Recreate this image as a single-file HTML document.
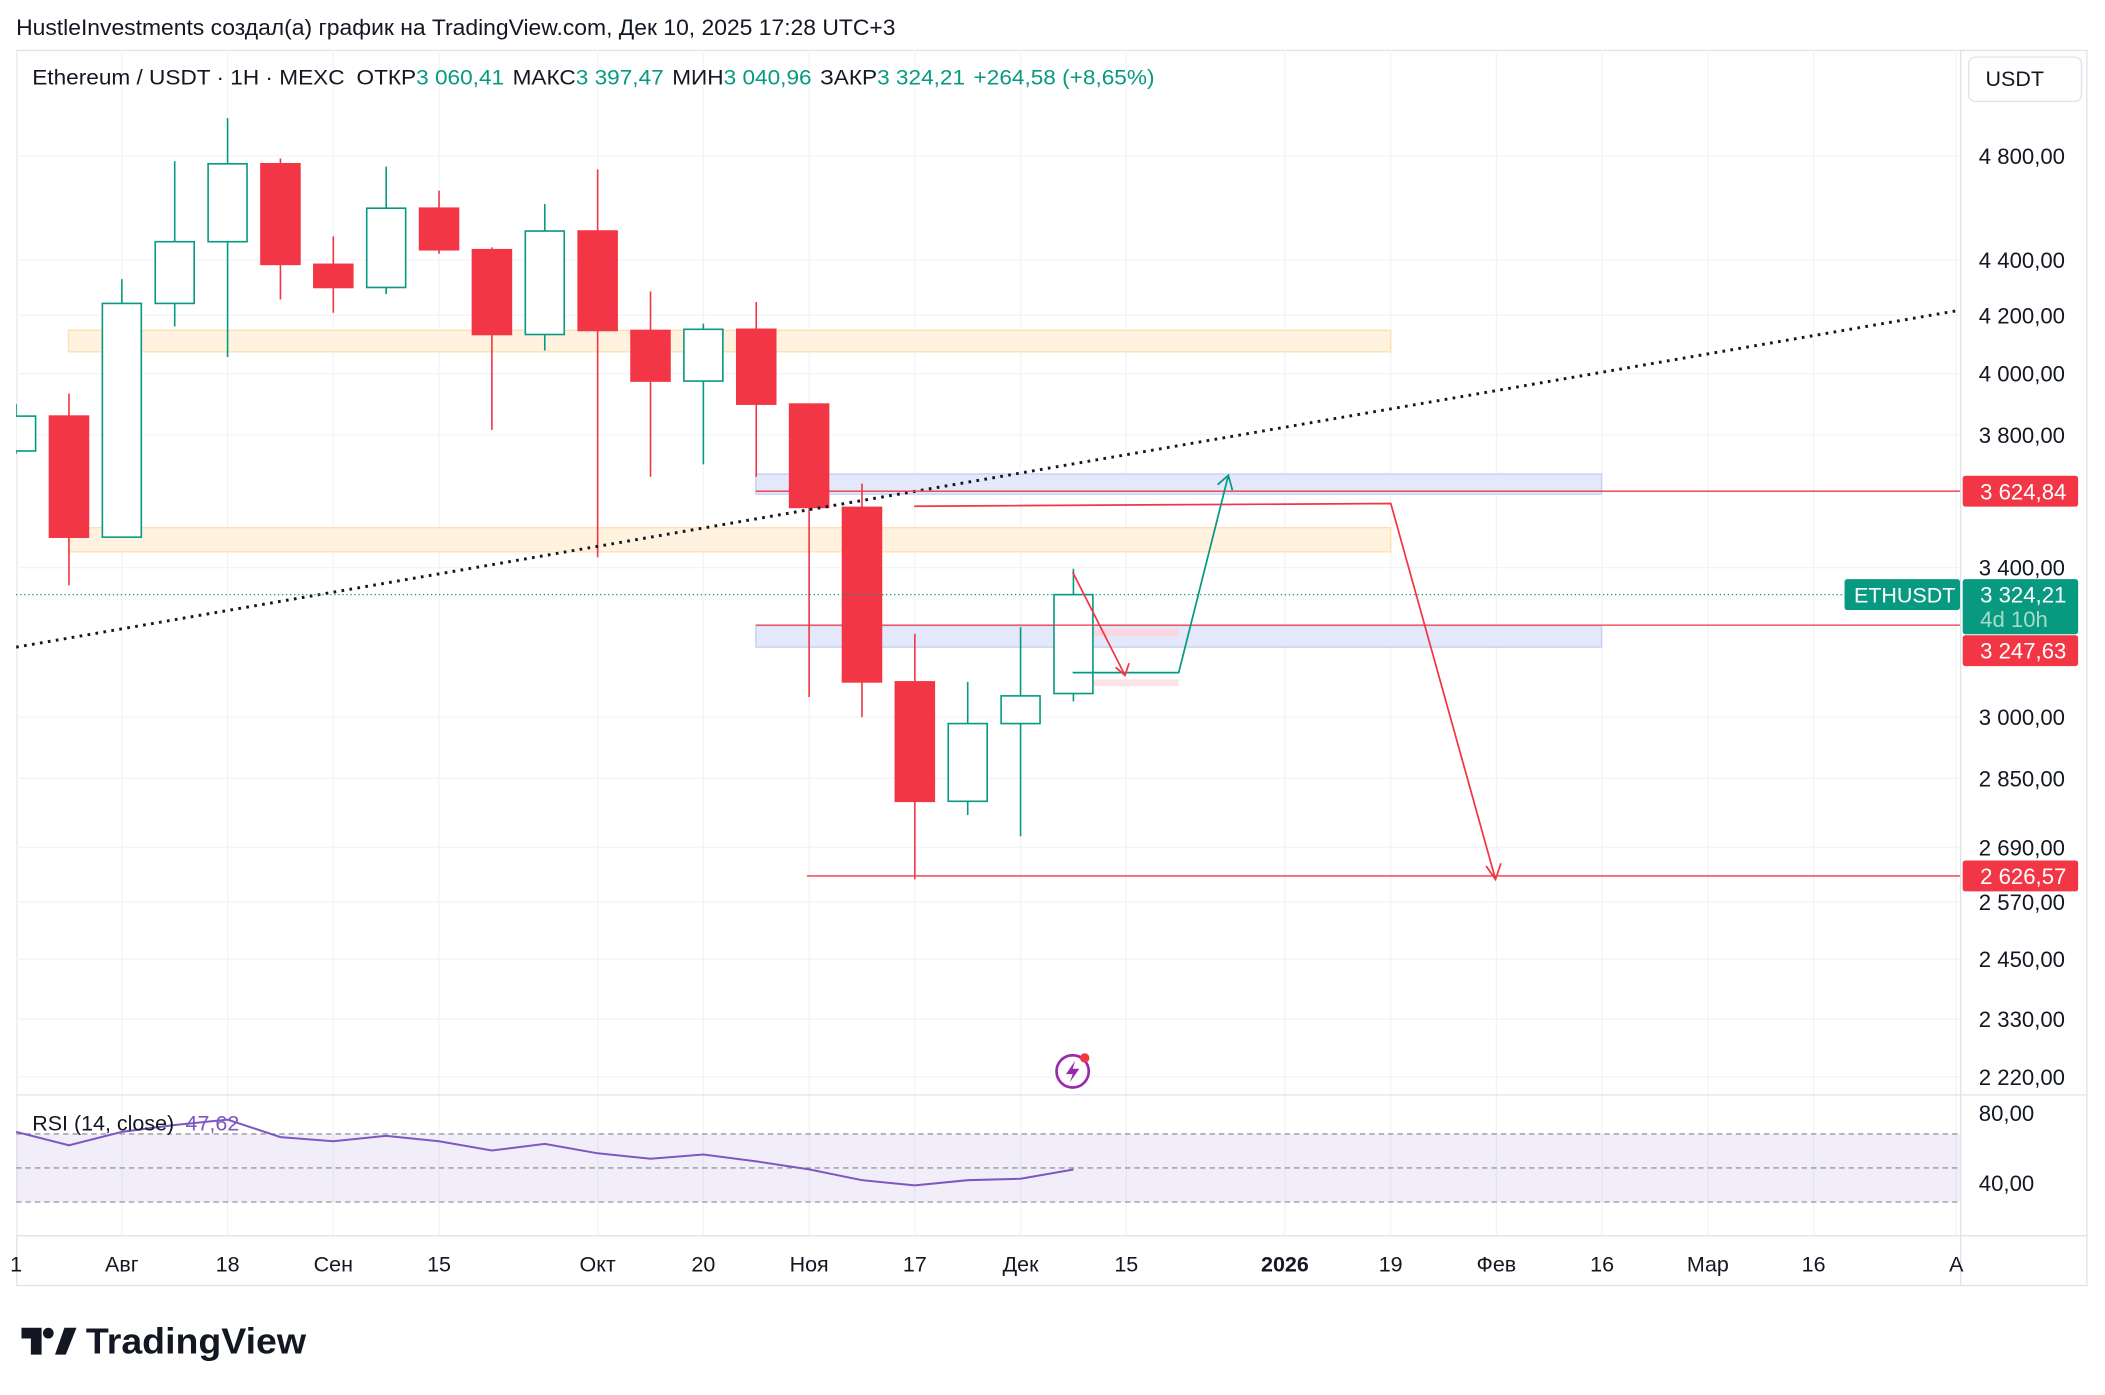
<!DOCTYPE html>
<html><head><meta charset="utf-8"><style>
html,body{margin:0;padding:0;background:#fff;width:2105px;height:1395px;overflow:hidden}
svg{display:block;font-family:"Liberation Sans","Noto Sans CJK SC",sans-serif}
</style></head><body>
<svg id="chart" width="2105" height="1395" viewBox="0 0 1568 1039">
<defs><clipPath id="plot"><rect x="12" y="37" width="1448" height="883"/></clipPath></defs>
<rect x="0" y="0" width="1568" height="1039" fill="#fff"/>
<text x="12" y="26" font-size="16.5" textLength="655" lengthAdjust="spacingAndGlyphs" fill="#131722">HustleInvestments создал(а) график на TradingView.com, Дек 10, 2025 17:28 UTC+3</text>
<rect x="12.5" y="37.5" width="1542" height="920" fill="none" stroke="#e0e3eb"/>
<g clip-path="url(#plot)">
<g id="grid"></g>
<g id="zones"></g>
<g id="candles"></g>
<g id="overlay"></g>
<g id="rsi"></g>
</g>
<line x1="12" y1="815.5" x2="1555" y2="815.5" stroke="#e0e3eb"/>
<line x1="1460.5" y1="37" x2="1460.5" y2="958" stroke="#e0e3eb"/>
<line x1="12" y1="920.5" x2="1555" y2="920.5" stroke="#e0e3eb"/>
<g id="yaxis"></g>
<g id="xaxis"></g>
<text x="24" y="63" font-size="16" textLength="836" lengthAdjust="spacingAndGlyphs" fill="#131722">Ethereum / USDT · 1Н · MEXC <tspan dx="4">ОТКР</tspan><tspan fill="#089981">3 060,41</tspan><tspan dx="6">МАКС</tspan><tspan fill="#089981">3 397,47</tspan><tspan dx="6">МИН</tspan><tspan fill="#089981">3 040,96</tspan><tspan dx="6">ЗАКР</tspan><tspan fill="#089981">3 324,21</tspan><tspan dx="6" fill="#089981">+264,58 (+8,65%)</tspan></text>
<rect x="1466.5" y="42.5" width="84" height="33" rx="5" fill="#fff" stroke="#e0e3eb"/>
<text x="1479" y="64" font-size="16" fill="#131722">USDT</text>
<text x="24" y="842" font-size="16" fill="#131722">RSI (14, close) <tspan fill="#7e57c2" dx="4">47,62</tspan></text>
<g><circle cx="799" cy="798" r="12" fill="none" stroke="#9c27b0" stroke-width="2"/><path d="M801 790 L794 800 L799 800 L797 806 L804 796 L799 796 Z" fill="#9c27b0"/><circle cx="808" cy="788" r="3.5" fill="#f23645"/></g>
<g><path d="M16 989 h15 v20 h-8 v-12 h-7 z" fill="#131722"/><circle cx="36" cy="993" r="4" fill="#131722"/><path d="M41 1009 L48 989 h9 l-8 20 z" fill="#131722"/><text x="64" y="1008" font-size="27" font-weight="bold" textLength="164" lengthAdjust="spacingAndGlyphs" fill="#131722">TradingView</text></g>
</svg>
<script>
const NS="http://www.w3.org/2000/svg";
const dates=["Jul 14","Jul 21","Jul 28","Aug 4","Aug 11","Aug 18","Aug 25","Sep 1","Sep 8","Sep 15","Sep 22","Sep 29","Oct 6","Oct 13","Oct 20","Oct 27","Nov 3","Nov 10","Nov 17","Nov 24","Dec 1"];
const opens=[3749,3860,3488,4242,4467,4768,4383,4299,4594,4437,4133,4507,4147,3975,4151,3899,3576,3090,2796,2984,3060];
const highs=[3900,3934,4329,4778,4954,4789,4487,4757,4662,4446,4610,4746,4285,4171,4247,3899,3648,3217,3090,3235,3397];
const lows=[3740,3350,3488,4161,4056,4256,4209,4275,4422,3816,4078,3430,3669,3707,3669,3051,3000,2619,2764,2715,3040];
const closes=[3860,3488,4242,4467,4768,4383,4299,4594,4437,4133,4507,4147,3975,4151,3899,3576,3090,2796,2984,3054,3324.21];
const rsiVals=[69.2,61.5,69.2,73.1,76.2,66.2,63.8,66.9,63.8,58.5,62.3,56.9,53.8,56.2,52.3,47.7,41.5,38.5,41.5,42.3,47.62];
const priceTicks=[4800,4400,4200,4000,3800,3400,3000,2850,2690,2570,2450,2330,2220];
const rsiTicks=[80,40];
const timeLabels=["1","Авг","18","Сен","15","Окт","20","Ноя","17","Дек","15","2026","19","Фев","16","Мар","16","А"];
const timeIdx=[0,2,4,6,8,11,13,15,17,19,21,24,26,28,30,32,34,36.7];
const levels=[3624.84,3247.63,2626.57];
const lastPrice=3324.21;

const X=i=>12+(i)*39.38;
const Y=p=>116+(Math.log(4800)-Math.log(p))*889.7;
const RY=v=>829+(80-v)*1.3;
function el(tag,attrs,parent,txt){const e=document.createElementNS(NS,tag);for(const k in attrs)e.setAttribute(k,attrs[k]);if(txt!==undefined)e.textContent=txt;parent.appendChild(e);return e;}
const g=id=>document.getElementById(id);
const fmt=v=>{let s=v.toFixed(2).replace('.',',');let [a,b]=s.split(',');if(a.length>3)a=a.slice(0,a.length-3)+' '+a.slice(-3);return a+','+b;};

priceTicks.forEach(p=>{const l=el('line',{x1:12,x2:1460,y1:Y(p),y2:Y(p),stroke:'#f3f4f6'},g('grid'));

});
timeIdx.forEach(i=>{const l=el('line',{x1:X(i),x2:X(i),y1:37,y2:920,stroke:'#f3f4f6'},g('grid'));

});

const Z=g('zones');
function rect(a,parent,name){const r=el('rect',a,parent);return r;}
rect({x:51,y:246,width:985,height:16,fill:'#fff3e0',stroke:'#ffe0b2'},Z,'supply-zone-upper');
rect({x:51,y:393,width:985,height:18,fill:'#fff3e0',stroke:'#ffe0b2'},Z,'supply-zone-lower');
rect({x:563,y:353,width:630,height:15,fill:'#e3e9fb',stroke:'#c5d0f5'},Z,'blue-zone-upper');
rect({x:563,y:466,width:630,height:16,fill:'#e3e9fb',stroke:'#c5d0f5'},Z,'blue-zone-lower');
rect({x:789,y:468,width:89,height:6,fill:'#f8d7e0'},Z,'pink-zone-1');
rect({x:789,y:506,width:89,height:5,fill:'#fde3e6'},Z,'pink-zone-2');

const C=g('candles');
dates.forEach((d,i)=>{
  const x=X(i),up=closes[i]>=opens[i],col=up?'#089981':'#f23645';
  const w=el('line',{x1:x,x2:x,y1:Y(highs[i]),y2:Y(lows[i]),stroke:col,'stroke-width':1.2},C);
  
  
  const t=Y(Math.max(opens[i],closes[i])),b=Y(Math.min(opens[i],closes[i]));
  const r=el('rect',{x:x-14.5,y:t,width:29,height:Math.max(1,b-t),fill:up?'#fff':col,stroke:col,'stroke-width':1.2},C);
  
  
});

const O=g('overlay');
function line(a,name){const l=el('line',a,O);return l;}
line({x1:12,y1:482,x2:1460,y2:231,stroke:'#131722','stroke-width':2.2,'stroke-dasharray':'2 4'},'trend-line-dotted');
line({x1:563,y1:Y(levels[0]),x2:1460,y2:Y(levels[0]),stroke:'#f23645'},'level-3624');
line({x1:563,y1:Y(levels[1])+2,x2:1460,y2:Y(levels[1])+2,stroke:'#f23645'},'level-3247');
line({x1:601,y1:Y(levels[2]),x2:1460,y2:Y(levels[2]),stroke:'#f23645'},'level-2626');
line({x1:12,y1:Y(lastPrice),x2:1375,y2:Y(lastPrice),stroke:'#089981','stroke-dasharray':'1 2'},'last-price-line');
function pl(pts,col,name){const p=el('polyline',{points:pts,fill:'none',stroke:col,'stroke-width':1.3},O);}
pl('681,377 1036,375 1114,655','#f23645','bearish-path');
pl('1107,645 1114,655 1118,643','#f23645','bearish-arrowhead');
pl('799,501 878,501 915,354','#089981','bullish-path');
pl('907,361 915,354 918,365','#089981','bullish-arrowhead');
pl('799,426 838,503','#f23645','pullback-arrow');
pl('831,497 838,503 841,494','#f23645','pullback-arrowhead');

const R=g('rsi');
rect({x:12,y:RY(68),width:1448,height:RY(29)-RY(68),fill:'#7e57c2','fill-opacity':0.1},R,'rsi-band');
[68,48.5,29].forEach(v=>{const l=el('line',{x1:12,x2:1460,y1:RY(v),y2:RY(v),stroke:'#9598a1','stroke-dasharray':'4 3'},R);

});
const rp=el('polyline',{points:rsiVals.map((v,i)=>X(i)+','+RY(v)).join(' '),fill:'none',stroke:'#7e57c2','stroke-width':1.5},R);



const YA=g('yaxis');
priceTicks.forEach(p=>{const t=el('text',{x:1474,y:Y(p)+6,'font-size':16.5,fill:'#131722'},YA,fmt(p));

});
rsiTicks.forEach(v=>{const t=el('text',{x:1474,y:RY(v)+6,'font-size':16.5,fill:'#131722'},YA,fmt(v));

});
function badge(y,col,txt,name,h){rect({x:1462,y:y-11.5,width:86,height:h||23,rx:2,fill:col},YA,name);
const t=el('text',{x:1475,y:y+6,'font-size':16.5,fill:'#fff'},YA,txt);

}
badge(Y(levels[0]),'#f23645',fmt(levels[0]),'level-badge-3624');
badge(Y(levels[2]),'#f23645',fmt(levels[2]),'level-badge-2626');
badge(Y(lastPrice),'#089981',fmt(lastPrice),'last-price-badge',41);
const cd=el('text',{x:1475,y:Y(lastPrice)+24,'font-size':16.5,fill:'#a5dccb'},YA,'4d 10h');


badge(Y(levels[1])+21,'#f23645',fmt(levels[1]),'level-badge-3247');
rect({x:1374,y:Y(lastPrice)-11.5,width:86,height:23,rx:2,fill:'#089981'},YA,'symbol-badge');
const sb=el('text',{x:1381,y:Y(lastPrice)+6,'font-size':16,fill:'#fff'},YA,'ETHUSDT');



const XA=g('xaxis');
timeLabels.forEach((s,k)=>{const t=el('text',{x:X(timeIdx[k]),y:947,'font-size':16,fill:'#131722','text-anchor':'middle','font-weight':s==='2026'?'bold':'normal'},XA,s);

});
</script>
</body></html>
